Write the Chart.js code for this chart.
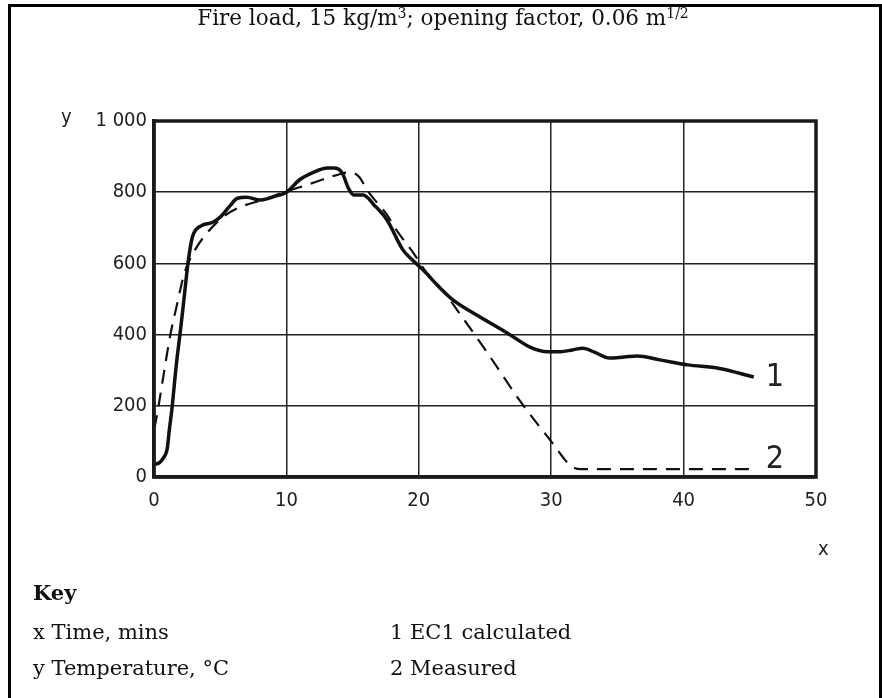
<!DOCTYPE html>
<html>
<head>
<meta charset="utf-8">
<script src="https://cdn.jsdelivr.net/npm/chart.js@4"></script>
<style>
  body { margin: 0; background: #fff; }
  #wrap { position: relative; width: 882px; height: 698px; overflow: hidden; }
  #frame { position: absolute; left: 8px; top: 4px; width: 874px; height: 720px;
           border: 3.5px solid #000; box-sizing: border-box; }
  .serif { position: absolute; font-family: "DejaVu Serif", serif; font-size: 21px; color: #111; white-space: nowrap; line-height: 26px; }
  .sans { position: absolute; font-family: "DejaVu Sans Condensed", "DejaVu Sans", sans-serif; font-size: 20px; color: #222; line-height: 24px; }
  sup { font-size: 14px; vertical-align: 7px; line-height: 0; }
</style>
</head>
<body>
<div id="wrap">
  <canvas id="c" width="882" height="698"></canvas>
  <div id="frame"></div>
  <div class="serif" style="left:0;width:886px;text-align:center;top:5px;font-size:21.5px;">Fire load, 15 kg/m<sup>3</sup>; opening factor, 0.06 m<sup>1/2</sup></div>
  <div class="sans" style="left:61px;top:104px;">y</div>
  <div class="sans" style="left:818px;top:536px;">x</div>
  <div class="serif" style="left:33px;top:580px;font-weight:bold;">Key</div>
  <div class="serif" style="left:33px;top:619px;">x Time, mins</div>
  <div class="serif" style="left:33px;top:655px;">y Temperature, °C</div>
  <div class="serif" style="left:390px;top:619px;">1 EC1 calculated</div>
  <div class="serif" style="left:390px;top:655px;">2 Measured</div>
</div>
<script>
// ---------- DATA ----------
const X_TICKS = [0, 10, 20, 30, 40, 50];
const Y_TICKS = [0, 200, 400, 600, 800, 1000];

// curve 1: EC1 calculated (time in min, temperature in °C)
const ec1Time = [0, 0.4, 0.7, 1.0, 1.15, 1.35, 1.7, 2.0, 2.2, 2.6, 2.9, 3.2, 3.7, 4.4, 5.0, 5.7, 6.3, 7.0, 8.0, 9.0, 10.0,
  11.0, 12.0, 13.1, 13.6, 14.2, 14.7, 15.1, 15.8, 16.6, 17.6, 18.8, 19.5, 20.5, 21.5, 22.6, 24.6, 26.7, 28.4,
  29.7, 30.7, 31.6, 32.4, 33.3, 34.4, 35.5, 36.5, 38.2, 40.3, 42.7, 45.3];
const ec1Temp = [35, 40, 53, 80, 130, 190, 320, 413, 478, 610, 674, 696, 708, 715, 730, 760, 783, 786, 778, 787, 800,
  835, 855, 868, 868, 855, 810, 792, 792, 765, 722, 638, 610, 575, 535, 497, 450, 404, 365,
  352, 352, 357, 362, 350, 334, 337, 340, 329, 315, 305, 281];

// curve 2: measured
const measTime = [0, 0.1, 0.3, 0.7, 1.2, 1.7, 2.3, 3.1, 4.0, 5.2, 6.5, 8.2, 9.7, 11.5, 13.8, 14.8, 15.5, 16.1,
  17.6, 18.3, 19.6, 20.6, 21.8, 22.9, 25.2, 27.6, 30.1, 31.4, 32.2, 45.3];
const measTemp = [135, 150, 190, 281, 393, 478, 573, 638, 685, 730, 758, 778, 798, 820, 848, 856, 843, 806,
  736, 694, 629, 573, 525, 469, 348, 216, 95, 34, 22, 22];

const toPoints = (xs, ys) => xs.map((x, i) => ({ x: x, y: ys[i] }));

// ---------- PLUGINS ----------
const plotFrame = {
  id: "plotFrame",
  afterDraw(chart) {
    const a = chart.chartArea, ctx = chart.ctx;
    ctx.save();
    ctx.strokeStyle = "#1a1a1a";
    ctx.lineWidth = 3.5;
    ctx.strokeRect(a.left, a.top, a.right - a.left, a.bottom - a.top);
    ctx.restore();
  }
};

const curveLabels = {
  id: "curveLabels",
  afterDatasetsDraw(chart) {
    const { ctx, scales } = chart;
    ctx.save();
    ctx.font = '32px "DejaVu Sans Condensed", "DejaVu Sans", sans-serif';
    ctx.fillStyle = "#222";
    ctx.textAlign = "center";
    ctx.textBaseline = "middle";
    ctx.fillText("1", scales.x.getPixelForValue(46.9), scales.y.getPixelForValue(278));
    ctx.fillText("2", scales.x.getPixelForValue(46.9), scales.y.getPixelForValue(48));
    ctx.restore();
  }
};

// ---------- CHART ----------
const tickFont = { family: '"DejaVu Sans Condensed", "DejaVu Sans", sans-serif', size: 20 };

new Chart(document.getElementById("c"), {
  type: "line",
  data: {
    datasets: [
      {
        label: "EC1 calculated",
        data: toPoints(ec1Time, ec1Temp),
        borderColor: "#111",
        borderWidth: 3.5,
        pointRadius: 0,
        cubicInterpolationMode: "monotone",
        fill: false
      },
      {
        label: "Measured",
        data: toPoints(measTime, measTemp),
        borderColor: "#111",
        borderWidth: 2.2,
        borderDash: [14, 9],
        pointRadius: 0,
        cubicInterpolationMode: "monotone",
        fill: false
      }
    ]
  },
  options: {
    responsive: false,
    animation: false,
    layout: { padding: { left: 0, top: 121, right: 66, bottom: 161 } },
    plugins: { legend: { display: false }, tooltip: { enabled: false } },
    scales: {
      x: {
        type: "linear",
        min: 0, max: 50,
        afterBuildTicks: s => { s.ticks = X_TICKS.map(v => ({ value: v })); },
        afterFit: s => { s.height = 60; },
        ticks: { font: tickFont, color: "#222", padding: 12, maxRotation: 0 },
        grid: { color: "#222", lineWidth: 1.5, drawTicks: false },
        border: { color: "#1a1a1a", width: 3.5 }
      },
      y: {
        min: 0, max: 1000,
        afterBuildTicks: s => { s.ticks = Y_TICKS.map(v => ({ value: v })); },
        afterFit: s => { s.width = 154; },
        ticks: {
          font: tickFont, color: "#222", padding: 7,
          callback: v => v === 1000 ? "1 000" : String(v)
        },
        grid: { color: "#222", lineWidth: 1.5, drawTicks: false },
        border: { color: "#1a1a1a", width: 3.5 }
      }
    }
  },
  plugins: [plotFrame, curveLabels]
});
</script>
</body>
</html>
